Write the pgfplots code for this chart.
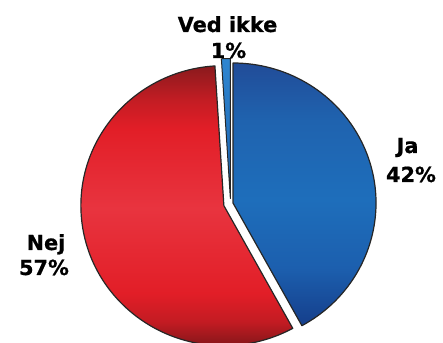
\documentclass[border=0pt]{standalone}
\usepackage{pgfplots}
\usepackage{pgfplotstable}
\pgfplotsset{compat=1.18}
\usepackage{fontspec}
\setmainfont{DejaVu Sans}
\newfontfamily\lab{DejaVu Sans Bold}[FakeBold=0.7]

\definecolor{rTop}{HTML}{8A1A1D}
\definecolor{rBand}{HTML}{E21E27}
\definecolor{rMid}{HTML}{E8343F}
\definecolor{rBot}{HTML}{7A1518}
\definecolor{bTop}{HTML}{214C98}
\definecolor{bUp}{HTML}{1F63AF}
\definecolor{bMid}{HTML}{1E6EBB}
\definecolor{bLow}{HTML}{1C5FAE}
\definecolor{bBot}{HTML}{153E8B}
\definecolor{vTop}{HTML}{2F86D0}
\definecolor{vBot}{HTML}{1C64B2}

\pgfdeclareverticalshading{redsh}{100bp}{color(0bp)=(rBot); color(25bp)=(rBot); color(30bp)=(rBand!70!rBot); color(35bp)=(rBand); color(50bp)=(rMid); color(64bp)=(rBand); color(69bp)=(rBand!65!rTop); color(75bp)=(rTop); color(100bp)=(rTop)}
\pgfdeclareverticalshading{bluesh}{100bp}{color(0bp)=(bBot); color(25bp)=(bBot); color(36bp)=(bLow); color(49bp)=(bMid); color(64bp)=(bUp); color(75bp)=(bTop); color(100bp)=(bTop)}
\pgfdeclareverticalshading{vedsh}{100bp}{color(0bp)=(vBot); color(25bp)=(vBot); color(75bp)=(vTop); color(100bp)=(vTop)}

% share of answers in percent; explode = offset of the slice in px
\pgfplotstableread{
label value explode
Ja 42 0
VedIkke 1 4.5
Nej 57 9.5
}\piedata

\begin{document}
\begin{tikzpicture}
\useasboundingbox (0,0) rectangle (443pt,342pt);
\pgfplotstablegetelem{0}{value}\of\piedata \pgfmathsetmacro{\vA}{\pgfplotsretval}
\pgfplotstablegetelem{1}{value}\of\piedata \pgfmathsetmacro{\vB}{\pgfplotsretval}
\pgfplotstablegetelem{2}{value}\of\piedata \pgfmathsetmacro{\vC}{\pgfplotsretval}
\pgfplotstablegetelem{0}{explode}\of\piedata \pgfmathsetmacro{\eA}{\pgfplotsretval}
\pgfplotstablegetelem{1}{explode}\of\piedata \pgfmathsetmacro{\eB}{\pgfplotsretval}
\pgfplotstablegetelem{2}{explode}\of\piedata \pgfmathsetmacro{\eC}{\pgfplotsretval}
\pgfmathsetmacro{\aA}{90-3.6*\vA}
\pgfmathsetmacro{\aB}{90}
\pgfmathsetmacro{\aC}{\aB+3.6*\vB}
\pgfmathsetmacro{\aD}{\aC+3.6*\vC}
% slice centres
\pgfmathsetmacro{\xA}{233+\eA*cos((\aA+\aB)/2)}
\pgfmathsetmacro{\yA}{139+\eA*sin((\aA+\aB)/2)}
\pgfmathsetmacro{\xB}{233+\eB*cos((\aB+\aC)/2)-2.5}
\pgfmathsetmacro{\yB}{139+\eB*sin((\aB+\aC)/2)}
\pgfmathsetmacro{\xC}{233+\eC*cos((\aC+\aD)/2)}
\pgfmathsetmacro{\yC}{139+\eC*sin((\aC+\aD)/2)}
\begin{axis}[
  at={(0,0)}, anchor=south west,
  scale only axis, width=443pt, height=342pt,
  xmin=0, xmax=443, ymin=0, ymax=342,
  hide axis, clip=false,
]
\pgfplotsextra{
  \shadedraw[shading=redsh, draw=black!85, line width=1.2pt, line join=round]
    (axis cs:\xC,\yC) -- ++(\aC:143pt and 140pt)
    arc[start angle=\aC, end angle=\aD, x radius=143pt, y radius=140pt] -- cycle;
  \shadedraw[shading=bluesh, draw=black!85, line width=1.2pt, line join=round]
    (axis cs:\xA,\yA) -- ++(\aA:143pt and 140pt)
    arc[start angle=\aA, end angle=\aB, x radius=143pt, y radius=140pt] -- cycle;
  \shadedraw[shading=vedsh, draw=black!85, line width=1pt, line join=round]
    (axis cs:\xB,\yB) -- ++(\aB:143pt and 140pt)
    arc[start angle=\aB, end angle=\aC, x radius=143pt, y radius=140pt] -- cycle;
}
\begin{scope}[every node/.style={font=\lab\fontsize{20.8pt}{24pt}\selectfont, inner sep=0pt, anchor=base}]
\node at (axis cs:227.5,310) {Ved ikke};
\node at (axis cs:228.5,284) {1\%};
\node at (axis cs:46,92) {Nej};
\node at (axis cs:44,67) {57\%};
\node at (axis cs:407.5,189) {Ja};
\node at (axis cs:411,160) {42\%};
\end{scope}
\end{axis}
\end{tikzpicture}
\end{document}
